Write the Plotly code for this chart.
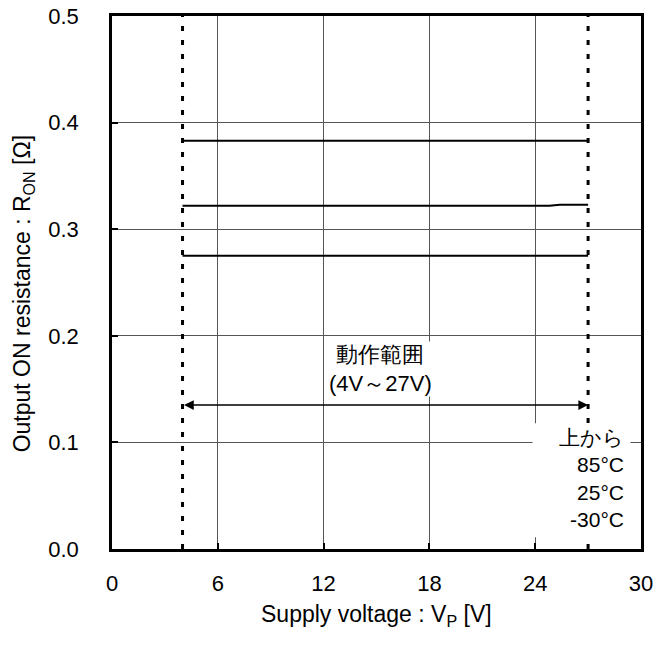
import plotly.graph_objects as go

# Data
voltage = [4, 8, 12, 16, 20, 24, 24.8, 25.4, 27]
r_85 = [0.383, 0.383, 0.383, 0.383, 0.383, 0.383, 0.383, 0.383, 0.383]
r_25 = [0.322, 0.322, 0.322, 0.322, 0.322, 0.322, 0.322, 0.323, 0.323]
r_m30 = [0.275, 0.275, 0.275, 0.275, 0.275, 0.275, 0.275, 0.275, 0.275]
range_limits = [4, 27]
x_ticks = [0, 6, 12, 18, 24, 30]
y_ticks = [0.0, 0.1, 0.2, 0.3, 0.4, 0.5]
y_tick_text = ["0.0", "0.1", "0.2", "0.3", "0.4", "0.5"]

FONT = "Arial, Liberation Sans, sans-serif"
FS_TICK = 22
FS_TITLE = 23

fig = go.Figure()

# range boundaries (dotted)
for v in range_limits:
    fig.add_trace(go.Scatter(x=[v, v], y=[0, 0.5], mode="lines",
                             line=dict(color="black", width=3, dash="5px,9px"),
                             showlegend=False, hoverinfo="skip"))

for ys in (r_85, r_25, r_m30):
    fig.add_trace(go.Scatter(x=voltage, y=ys, mode="lines",
                             line=dict(color="black", width=2),
                             showlegend=False))

# double arrow
fig.add_annotation(x=range_limits[1], y=0.135, ax=range_limits[0], ay=0.135,
                   xref="x", yref="y", axref="x", ayref="y", text="",
                   showarrow=True, arrowhead=2, startarrowhead=2,
                   arrowside="end+start", arrowwidth=1.5, arrowsize=1.3,
                   startarrowsize=1.3, arrowcolor="black")
fig.add_annotation(x=15.2, y=0.169, xref="x", yref="y",
                   text="動作範囲<br>(4V～27V)", showarrow=False,
                   font=dict(family=FONT, size=22, color="black"),
                   bgcolor="white", borderpad=0, align="center")

# legend note box (white background)
fig.add_shape(type="rect", xref="x", yref="y", x0=23.85, x1=29.4, y0=0.011, y1=0.118,
              fillcolor="white", line=dict(width=0), layer="above")
fig.add_annotation(x=29.15, y=0.0666, xref="x", yref="y", xanchor="right",
                   text="上から<br>85°C<br>25°C<br>-30°C", showarrow=False,
                   align="right", font=dict(family=FONT, size=21, color="black"))

# axis titles
fig.add_annotation(x=0.5, y=-0.1257, xref="paper", yref="paper", yanchor="middle",
                   text="Supply voltage : V<sub>P</sub> [V]", showarrow=False,
                   font=dict(family=FONT, size=FS_TITLE, color="black"))
fig.add_annotation(x=-0.168, y=0.478, xref="paper", yref="paper", xanchor="center",
                   yanchor="middle", textangle=-90,
                   text="Output ON resistance : R<sub>ON</sub> [Ω]", showarrow=False,
                   font=dict(family=FONT, size=FS_TITLE, color="black"))

common = dict(showgrid=True, gridcolor="#555555", gridwidth=1, showline=True,
              linecolor="black", linewidth=2.5, mirror=True, ticks="inside",
              ticklen=6, tickwidth=2, tickcolor="black", zeroline=False,
              automargin=False, ticklabeloverflow="allow",
              tickfont=dict(family=FONT, size=FS_TICK, color="black"))
fig.update_xaxes(range=[0, 30], tickvals=x_ticks, ticklabelstandoff=13, **common)
fig.update_yaxes(range=[0, 0.5], tickvals=y_ticks, ticktext=y_tick_text,
                 ticklabelstandoff=26, **common)

fig.update_layout(width=671, height=646, margin=dict(l=112, r=30, t=16, b=97),
                  plot_bgcolor="white", paper_bgcolor="white", showlegend=False)

fig.write_html("out.html", config={"displayModeBar": False},
               post_script="document.body.style.margin='0';")
